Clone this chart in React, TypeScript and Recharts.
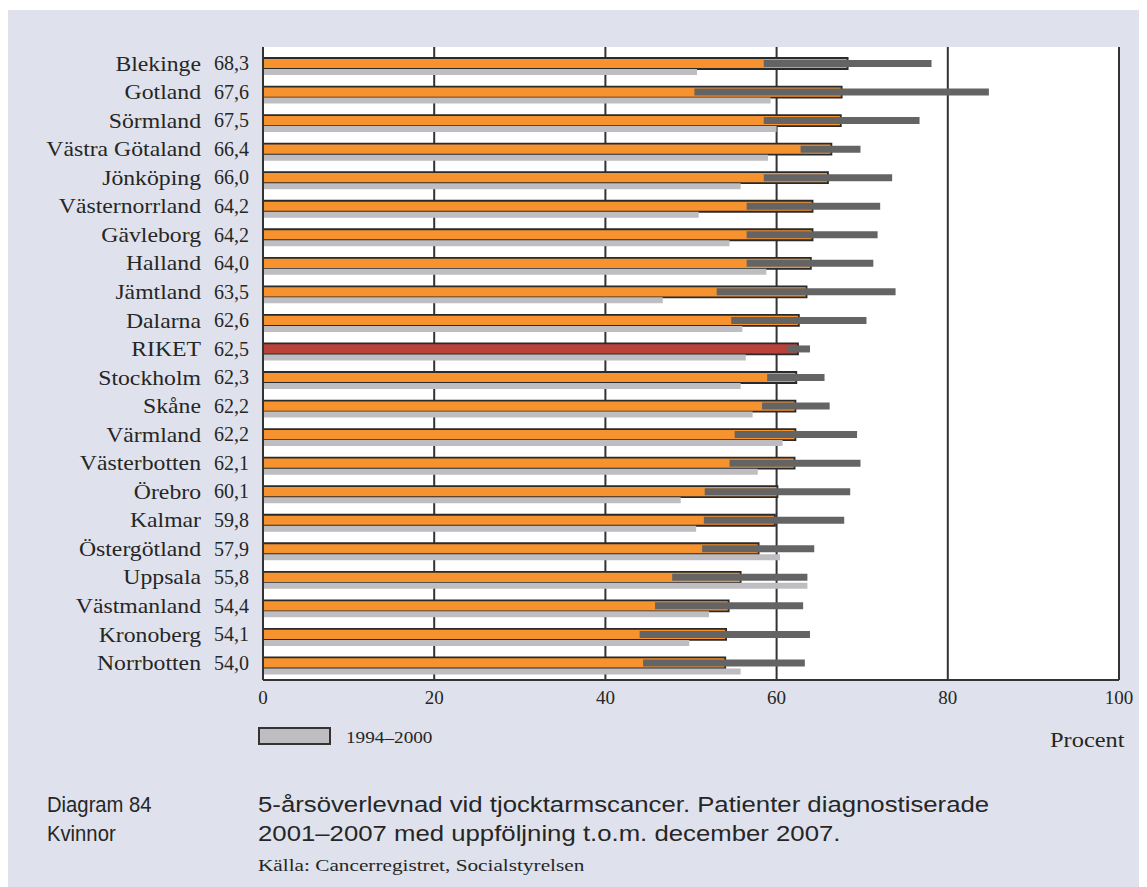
import React from 'react';
import { BarChart, Bar, XAxis, YAxis, CartesianGrid, ErrorBar, Cell } from 'recharts';

const regions = [
  'Blekinge', 'Gotland', 'Sörmland', 'Västra Götaland', 'Jönköping', 'Västernorrland',
  'Gävleborg', 'Halland', 'Jämtland', 'Dalarna', 'RIKET', 'Stockholm', 'Skåne',
  'Värmland', 'Västerbotten', 'Örebro', 'Kalmar', 'Östergötland', 'Uppsala',
  'Västmanland', 'Kronoberg', 'Norrbotten',
];
// 5-årsöverlevnad 2001–2007
const rate2001 = [68.3, 67.6, 67.5, 66.4, 66.0, 64.2, 64.2, 64.0, 63.5, 62.6, 62.5, 62.3, 62.2, 62.2, 62.1, 60.1, 59.8, 57.9, 55.8, 54.4, 54.1, 54.0];
// konfidensintervall
const ciLow = [58.5, 50.4, 58.5, 62.8, 58.5, 56.5, 56.5, 56.5, 53.0, 54.7, 61.2, 58.9, 58.3, 55.1, 54.5, 51.6, 51.5, 51.3, 47.8, 45.8, 44.0, 44.4];
const ciHigh = [78.1, 84.8, 76.7, 69.8, 73.5, 72.1, 71.8, 71.3, 73.9, 70.5, 63.9, 65.6, 66.2, 69.4, 69.8, 68.6, 67.9, 64.4, 63.6, 63.1, 63.9, 63.3];
// 1994–2000
const rate1994 = [50.7, 59.3, 60.0, 59.0, 55.8, 50.9, 54.5, 58.8, 46.7, 56.0, 56.4, 55.8, 57.2, 60.7, 57.8, 48.8, 50.6, 60.4, 63.6, 52.1, 49.8, 55.8];
const xTicks = [0, 20, 40, 60, 80, 100];

const data = regions.map((name, i) => ({
  name,
  value: rate2001[i],
  prev: rate1994[i],
  ci: [rate2001[i] - ciLow[i], ciHigh[i] - rate2001[i]],
}));

const fmt = (v: number) => v.toFixed(1).replace('.', ',');

const serif = '"Liberation Serif", "Times New Roman", serif';
const sans = '"Liberation Sans", Arial, sans-serif';
const ink = '#262626';

const RegionTick = (props: any) => {
  const { y, payload } = props;
  const i = regions.indexOf(payload.value);
  const ty = y - 3;
  return (
    <g>
      <text
        transform={`translate(193, ${ty}) scale(1.13, 1)`}
        dy="0.35em"
        textAnchor="end"
        fontFamily={serif}
        fontSize={21}
        fill={ink}
      >
        {payload.value}
      </text>
      <text x={241} y={ty} dy="0.35em" textAnchor="end" fontFamily={serif} fontSize={20} fill={ink}>
        {fmt(rate2001[i])}
      </text>
    </g>
  );
};

const PctTick = (props: any) => (
  <text x={props.x} y={props.y} dy="0.71em" textAnchor="middle" fontFamily={serif} fontSize={19} fill={ink}>
    {props.payload.value}
  </text>
);

const stretch = (s: number): React.CSSProperties => ({
  transform: `scaleX(${s})`,
  transformOrigin: 'left center',
  whiteSpace: 'nowrap',
});

const App: React.FC = () => {
  return (
    <div style={{ paddingTop: 2 }}>
      <div style={{ position: 'relative', width: 1131, height: 877, background: '#dfe2ec' }}>
        <div style={{ position: 'absolute', left: 0, top: 0 }}>
          <BarChart
            width={1131}
            height={710}
            data={data}
            layout="vertical"
            margin={{ top: 37, right: 20, bottom: 10, left: 0 }}
            barGap={0}
          >
            <CartesianGrid
              horizontal={false}
              fill="#ffffff"
              fillOpacity={1}
              stroke="#333"
              strokeWidth={2}
            />
            <XAxis
              type="number"
              domain={[0, 100]}
              ticks={xTicks}
              height={30}
              tickLine={false}
              tickSize={0}
              tickMargin={11}
              axisLine={{ stroke: '#333', strokeWidth: 2 }}
              tick={<PctTick />}
            />
            <XAxis
              xAxisId="top"
              orientation="top"
              type="number"
              domain={[0, 100]}
              height={0}
              tick={false}
              tickLine={false}
              axisLine={{ stroke: '#333', strokeWidth: 2 }}
            />
            <YAxis
              type="category"
              dataKey="name"
              width={255}
              padding={{ top: 5, bottom: 0 }}
              tickLine={false}
              axisLine={{ stroke: '#333', strokeWidth: 2 }}
              tick={<RegionTick />}
              interval={0}
            />
            <Bar
              dataKey="value"
              barSize={11}
              fill="#f7932f"
              stroke="#2a2a2a"
              strokeWidth={1.8}
              isAnimationActive={false}
            >
              {data.map((d) => (
                <Cell key={d.name} fill={d.name === 'RIKET' ? '#b9433a' : '#f7932f'} />
              ))}
              <ErrorBar dataKey="ci" direction="x" width={0} stroke="#646464" strokeWidth={7} />
            </Bar>
            <Bar dataKey="prev" barSize={6} fill="#bebec2" isAnimationActive={false} />
          </BarChart>
        </div>

        <div
          style={{
            position: 'absolute',
            left: 250,
            top: 717,
            width: 69,
            height: 14,
            background: '#bebec2',
            border: '2px solid #333',
          }}
        />
        <div style={{ position: 'absolute', left: 338, top: 718, fontFamily: serif, fontSize: 17, color: ink, ...stretch(1.13) }}>
          1994–2000
        </div>
        <div style={{ position: 'absolute', left: 1042, top: 719, fontFamily: serif, fontSize: 20, color: ink, ...stretch(1.22) }}>
          Procent
        </div>

        <div style={{ position: 'absolute', left: 39, top: 780, fontFamily: sans, fontSize: 22, lineHeight: '29px', color: ink, ...stretch(0.92) }}>
          Diagram 84
          <br />
          Kvinnor
        </div>
        <div style={{ position: 'absolute', left: 250, top: 780, fontFamily: sans, fontSize: 22, lineHeight: '29px', color: ink, ...stretch(1.17) }}>
          5-årsöverlevnad vid tjocktarmscancer. Patienter diagnostiserade
          <br />
          2001–2007 med uppföljning t.o.m. december 2007.
        </div>
        <div style={{ position: 'absolute', left: 250, top: 846, fontFamily: serif, fontSize: 17, color: ink, ...stretch(1.25) }}>
          Källa: Cancerregistret, Socialstyrelsen
        </div>
      </div>
    </div>
  );
};

export default App;
